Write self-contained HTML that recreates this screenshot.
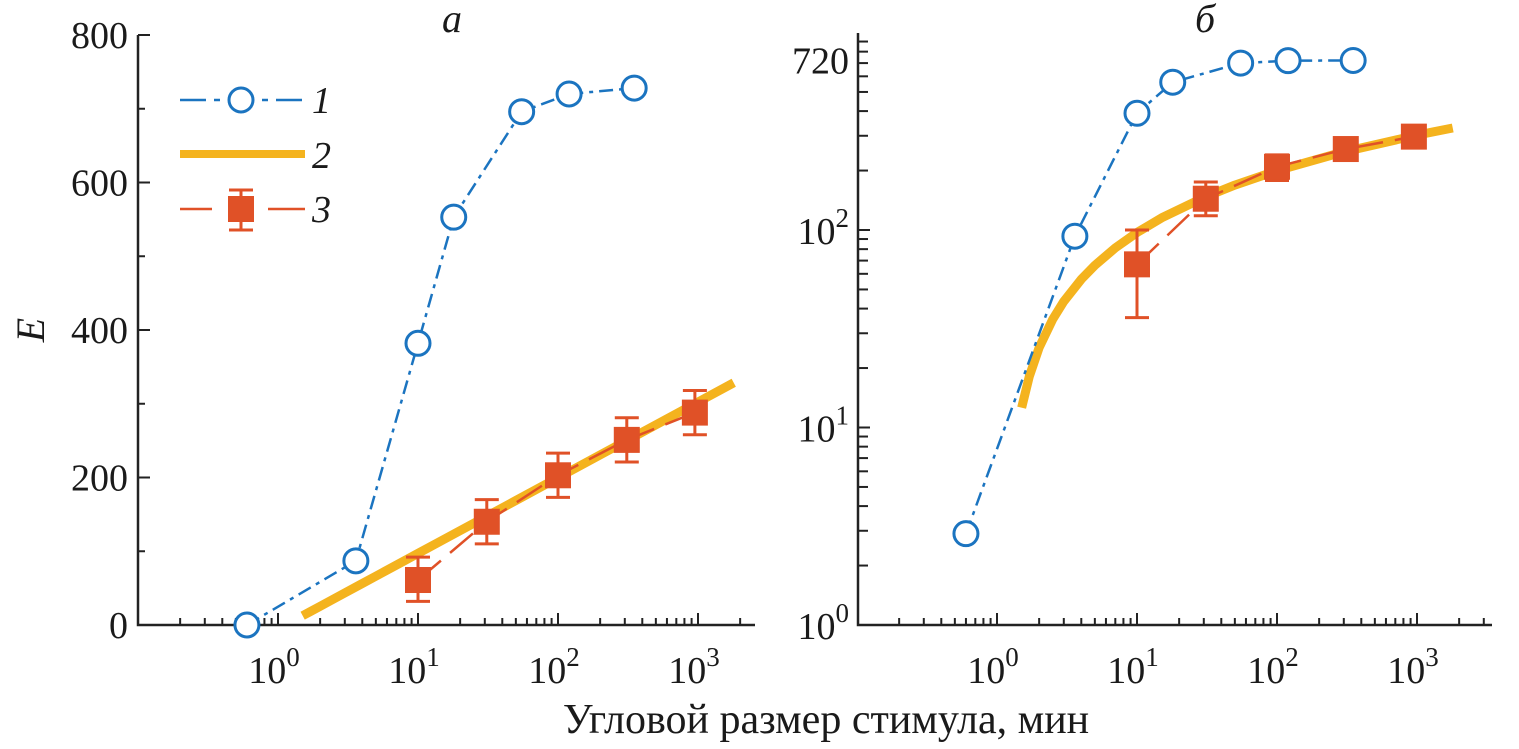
<!DOCTYPE html>
<html><head><meta charset="utf-8"><style>
body{margin:0;background:#fff;}
svg text{font-family:"Liberation Serif",serif;fill:#1a1a1a;}
</style></head><body>
<svg id="chart" width="1519" height="744" viewBox="0 0 1519 744" xmlns="http://www.w3.org/2000/svg"></svg>
<script>
const blueX=[0.6,3.6,10,18,55,120,350];
const blueLin=[0,87,382,553,696,720,728];
const blueLog=[2.9,93,390,560,700,720,722];
const fitX=[1.5,1.7,2,2.5,3,4,5,7,10,15,30,50,100,300,1000,1800];
const fitY=[12.6,18.1,25.4,35.3,43.5,56.3,66.2,81.2,97.1,115.2,146,168.8,199.7,248.7,302.3,328.5];
const redX=[10,31,100,310,950];
const redY=[61,140,203,251,288];
const redErrLo=[29,30,30,30,30];
const redErrHi=[31,30,30,30,30];
const redYLog=[67,144,209,257,297];
const redLogLo=[36,118,178,225,262];
const redLogHi=[100,175,240,290,330];
const linTicks=[0,200,400,600,800];
const logTicksY=[1,10,100];
const xTicks=[1,10,100,1000];

const NS='http://www.w3.org/2000/svg';
const svg=document.getElementById('chart');
const BLUE='#1b74c0',ORANGE='#f4b31e',RED='#e05127',AX='#222';
function el(t,a,p){const e=document.createElementNS(NS,t);for(const k in a)e.setAttribute(k,a[k]);(p||svg).appendChild(e);return e;}

function makePanel(x0,x1,yBot,yTop,sx,sy,name){
  const g=el('g',{});
  
  
  const ax=el('path',{d:`M${x0},${yTop}V${yBot}H${x1}`,stroke:AX,'stroke-width':2.5,fill:'none'},g);
  
  
  for(let d=-1;d<=3;d++){for(let m=1;m<=9;m++){const v=m*Math.pow(10,d);const px=sx(v);if(px<=x0+1||px>x1)continue;
    el('line',{x1:px,x2:px,y1:yBot,y2:yBot-(m==1?12:7),stroke:AX,'stroke-width':2},g);}}
  xTicks.forEach(v=>{const t=el('text',{x:sx(v)-4,y:yBot+58,'font-size':38,'text-anchor':'middle'},g);
    
    
    t.innerHTML='10<tspan font-size="27" dy="-17">'+Math.log10(v)+'</tspan>';});
  return g;
}

const ax0=138,ax1=755,aBot=625,aTop=35;
const sxA=v=>278+140*Math.log10(v);
const syA=v=>aBot-(v/800)*(aBot-aTop);
const gA=makePanel(ax0,ax1,aBot,aTop,sxA,syA,'panel-a');
linTicks.forEach(v=>{const y=syA(v);el('line',{x1:ax0,x2:ax0+12,y1:y,y2:y,stroke:AX,'stroke-width':2},gA);
  const t=el('text',{x:128,y:y+13,'font-size':38,'text-anchor':'end'},gA);t.textContent=v;
  
  });
for(let v=100;v<800;v+=200){const y=syA(v);el('line',{x1:ax0,x2:ax0+7,y1:y,y2:y,stroke:AX,'stroke-width':2},gA);}

const bx0=858,bx1=1492,bBot=625,bTop=33;
const sxB=v=>997+140*Math.log10(v);
const syB=v=>bBot-197.5*Math.log10(v);
const gB=makePanel(bx0,bx1,bBot,bTop,sxB,syB,'panel-b');
for(let d=0;d<=2;d++){for(let m=1;m<=9;m++){const v=m*Math.pow(10,d);const y=syB(v);
  el('line',{x1:bx0,x2:bx0+(m==1?12:10),y1:y,y2:y,stroke:AX,'stroke-width':2},gB);}}
logTicksY.forEach(v=>{const t=el('text',{x:849,y:syB(v)+14,'font-size':38,'text-anchor':'end'},gB);
  
  
  t.innerHTML='10<tspan font-size="27" dy="-17">'+Math.log10(v)+'</tspan>';});
{const t=el('text',{x:849,y:syB(720)+13,'font-size':38,'text-anchor':'end'},gB);t.textContent='720';
  
  }

function drawSeries(g,sx,sy,ys,lo,hi,blue){
  const fit=el('polyline',{points:fitX.map((x,i)=>sx(x)+','+sy(fitY[i])).join(' '),fill:'none',stroke:ORANGE,'stroke-width':9,'stroke-linejoin':'round'},g);
  
  
  const rl=el('polyline',{points:redX.map((x,i)=>sx(x)+','+sy(ys[i])).join(' '),fill:'none',stroke:RED,'stroke-width':2.5,'stroke-dasharray':'30 12'},g);
  
  
  redX.forEach((x,i)=>{const px=sx(x),py=sy(ys[i]),yl=sy(lo[i]),yh=sy(hi[i]);
    el('path',{d:`M${px},${yl}V${yh}M${px-12},${yl}H${px+12}M${px-12},${yh}H${px+12}`,stroke:RED,'stroke-width':3,fill:'none'},g);
    const r=el('rect',{x:px-13,y:py-13,width:26,height:26,fill:RED},g);
    
    });
  const bl=el('polyline',{points:blueX.map((x,i)=>sx(x)+','+sy(blue[i])).join(' '),fill:'none',stroke:BLUE,'stroke-width':2.5,'stroke-dasharray':'14 6 4 6'},g);
  
  
  blueX.forEach((x,i)=>{const c=el('circle',{cx:sx(x),cy:sy(blue[i]),r:12,fill:'#fff',stroke:BLUE,'stroke-width':3},g);
    
    });
}
drawSeries(gA,sxA,syA,redY,redY.map((v,i)=>v-redErrLo[i]),redY.map((v,i)=>v+redErrHi[i]),blueLin);
drawSeries(gB,sxB,syB,redYLog,redLogLo,redLogHi,blueLog);

const lg=el('g',{});


el('line',{x1:180,x2:305,y1:100,y2:100,stroke:BLUE,'stroke-width':2.5,'stroke-dasharray':'26 8 6 8'},lg);
el('circle',{cx:241,cy:100,r:12,fill:'#fff',stroke:BLUE,'stroke-width':3},lg);
el('line',{x1:180,x2:305,y1:154,y2:154,stroke:ORANGE,'stroke-width':8},lg);
el('path',{d:'M180,209H212M268,209H305',stroke:RED,'stroke-width':2.5},lg);
el('path',{d:'M241,190V230M229,190H253M229,230H253',stroke:RED,'stroke-width':3,fill:'none'},lg);
el('rect',{x:228,y:196,width:26,height:26,fill:RED},lg);
[['1',113],['2',168],['3',222]].forEach(([s,y])=>{const t=el('text',{x:312,y:y,'font-size':38,'font-style':'italic'},lg);t.textContent=s;
  
  });

function txt(s,a,name){const t=el('text',a);t.textContent=s;return t;}
txt('а',{x:452,y:32,'font-size':40,'font-style':'italic','text-anchor':'middle'},'panel-a-title');
txt('б',{x:1205,y:32,'font-size':40,'font-style':'italic','text-anchor':'middle'},'panel-b-title');
txt('E',{x:0,y:0,'font-size':40,'font-style':'italic','text-anchor':'middle',transform:'translate(44,330) rotate(-90)'},'y-axis-title');
txt('Угловой размер стимула, мин',{x:826,y:733,'font-size':42,'text-anchor':'middle'},'x-axis-title');
</script>
</body></html>
